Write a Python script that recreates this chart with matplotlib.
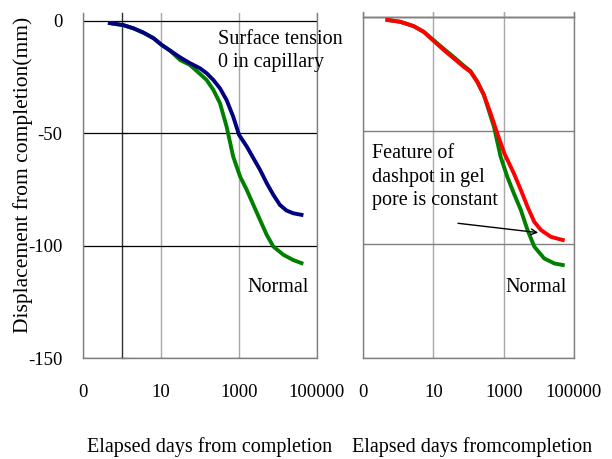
import matplotlib
matplotlib.use("Agg")
import matplotlib.pyplot as plt
from matplotlib.ticker import NullLocator

plt.rcParams['font.family'] = ['Liberation Serif', 'DejaVu Serif']

# Dados (dias, deslocamento em mm)
dias_capilar = [0.49, 1.08, 1.95, 3.5, 6.4, 10.4, 17, 30.7, 55, 100, 148, 220, 325, 480,
                710, 1000, 1580, 2340, 3470, 5130, 7590, 11200, 16600, 24500, 40000]
desl_capilar = [-1.0, -1.9, -3.3, -5.2, -7.7, -10.7, -13.2, -16.2, -18.8, -21.1, -23.3, -26.3,
                -30.0, -35.2, -42.6, -50.7, -55.9, -61.1, -66.3, -72.2, -77.4, -81.9, -84.4,
                -85.6, -86.3]

dias_normal_esq = [0.49, 1.08, 1.95, 3.5, 6.4, 10.4, 17, 30.7, 55, 100, 148, 220, 325, 480,
                   710, 1070, 1580, 2340, 3470, 5130, 7590, 13800, 24500, 40000]
desl_normal_esq = [-1.0, -1.9, -3.3, -5.2, -7.7, -10.7, -13.2, -17.4, -19.6, -23.6, -26.3,
                   -30.7, -36.6, -47.0, -60.4, -69.3, -75.2, -81.9, -88.6, -95.2, -100.4,
                   -104.1, -106.4, -107.8]

dias_dashpot = [0.495, 1.14, 2.74, 5.3, 10.9, 19.7, 38, 73, 114, 177, 274, 425, 660, 1045,
                1950, 3080, 4770, 7420, 11500, 22000, 48000]
desl_dashpot = [-1.3, -2.1, -4.0, -6.5, -10.9, -14.5, -18.2, -21.9, -24.1, -28.5, -34.3, -42.4,
                -51.2, -60.0, -68.8, -76.1, -83.5, -90.1, -93.7, -96.7, -98.1]

dias_normal_dir = [0.495, 1.14, 2.74, 5.3, 10.9, 19.7, 38, 73, 114, 177, 274, 530, 820, 1270,
                   1950, 3080, 4770, 7420, 14200, 27600, 48000]
desl_normal_dir = [-1.3, -2.1, -4.0, -6.5, -10.6, -14.0, -17.6, -21.4, -23.8, -28.3, -34.3,
                   -48.3, -61.5, -70.3, -77.6, -84.9, -93.7, -101.0, -106.2, -108.4, -109.1]

x_ticks = [0.1, 10, 1000, 100000]
x_labels = ['0', '10', '1000', '100000']
y_ticks = [0, -50, -100, -150]
y_labels = ['0', '-50', '-100', '-150']

fig = plt.figure(figsize=(6.12, 4.59), dpi=100)
ax1 = fig.add_axes([83/612, 1 - 358/459, 234/612, 345/459])
ax2 = fig.add_axes([363/612, 1 - 358/459, 211/612, 346/459])

for ax in (ax1, ax2):
    ax.set_xscale('log')
    ax.set_xlim(0.1, 100000)
    ax.set_xticks(x_ticks)
    ax.set_xticklabels(x_labels, fontsize=13.5)
    ax.xaxis.set_minor_locator(NullLocator())
    ax.tick_params(axis='x', length=0, pad=19)
    ax.set_yticks(y_ticks)
    ax.spines['top'].set_visible(False)
    for s in ('left', 'right', 'bottom'):
        ax.spines[s].set_color('#808080')
        ax.spines[s].set_linewidth(1.0)
    ax.grid(axis='x', color='#a8a8a8', linewidth=1.0)
    ax.set_axisbelow(True)

# Painel esquerdo
ax1.set_ylim(-150, 3.5)
ax1.set_yticklabels(y_labels, fontsize=13.5)
ax1.tick_params(axis='y', length=0, pad=15)
ax1.grid(axis='y', color='black', linewidth=0.9)
ax1.plot(dias_normal_esq, desl_normal_esq, color='#008000', linewidth=2.8)
ax1.plot(dias_capilar, desl_capilar, color='#000080', linewidth=2.8)
ax1.set_ylabel('Displacement from completion(mm)', fontsize=15.5)
ax1.yaxis.set_label_coords(-0.215, 0.53)

# eixo y cruzando em x = 1
sec_y = ax1.secondary_yaxis(1/6)
sec_y.set_yticks(y_ticks)
sec_y.tick_params(axis='y', direction='in', length=4.5, labelleft=False, labelright=False,
                  color='#303030')
for s in sec_y.spines.values():
    s.set_color('#303030')
    s.set_linewidth(1.0)

ax1.text(290, -4, 'Surface tension\n0 in capillary', fontsize=14.5,
         va='top', ha='left', linespacing=1.3)
ax1.text(1600, -118.5, 'Normal', fontsize=14.5, va='center', ha='left')

# Painel direito
ymin2, ymax2 = -150, 2.2
ax2.set_ylim(ymin2, ymax2)
ax2.tick_params(axis='y', length=0, labelleft=False)
ax2.grid(axis='y', color='#808080', linewidth=1.0)
ax2.plot(dias_normal_dir, desl_normal_dir, color='#008000', linewidth=2.8)
ax2.plot(dias_dashpot, desl_dashpot, color='#ff0000', linewidth=2.8)

# eixo x cruzando em y = 0
sec_x = ax2.secondary_xaxis((0 - ymin2) / (ymax2 - ymin2))
sec_x.set_xticks(x_ticks)
sec_x.xaxis.set_minor_locator(NullLocator())
sec_x.tick_params(axis='x', direction='out', length=3.6, labeltop=False, labelbottom=False,
                  color='#202020')
for s in sec_x.spines.values():
    s.set_color('#202020')
    s.set_linewidth(1.0)

ax2.text(0.18, -70.4, 'Feature of\ndashpot in gel\npore is constant', fontsize=14.5,
         va='center', ha='left', linespacing=1.3)
ax2.annotate('', xy=(11500, -95), xytext=(42, -90.6),
             arrowprops=dict(arrowstyle='->', color='black', lw=1.0))
ax2.text(1150, -118.8, 'Normal', fontsize=14.5, va='center', ha='left')

fig.text(210/612, 1 - 447/459, 'Elapsed days from completion', fontsize=14.5,
         ha='center', va='center')
fig.text(472/612, 1 - 447/459, 'Elapsed days fromcompletion', fontsize=14.5,
         ha='center', va='center')

plt.savefig('out.png', dpi=100)
